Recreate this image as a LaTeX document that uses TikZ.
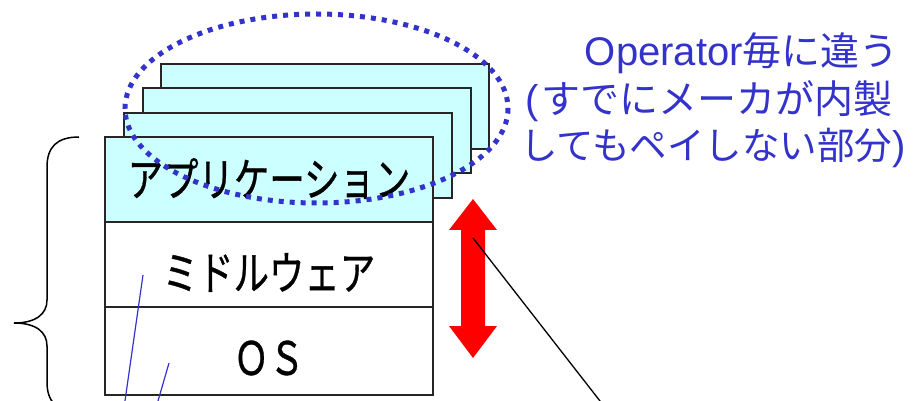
\documentclass[tikz,border=0pt]{standalone}
\usepackage{fontspec}
\setmainfont{Liberation Sans}
\newfontfamily\jp{Noto Sans CJK JP}
\newfontfamily\jpbold[FakeBold=0.8]{Noto Sans CJK JP}
\usetikzlibrary{positioning}
\definecolor{noteblue}{RGB}{51, 51, 204}
\definecolor{appcyan}{RGB}{204, 255, 255}
\definecolor{arrowred}{RGB}{255, 0, 0}
\newcommand{\layertext}[2]{\raisebox{#1}[\height][\depth]{\scalebox{0.77}[1]{#2}}}

\begin{document}
\begin{tikzpicture}[x=1pt, y=-1pt,
  layer/.style={draw=black!85, line width=2pt, fill=white, minimum width=328,
    minimum height=85, inner sep=0pt, outer sep=0pt,
    font=\jpbold\fontsize{46}{46}\selectfont},
  appbox/.style={layer, fill=appcyan},
  note/.style={text=noteblue, inner sep=0pt, font=\jp\fontsize{39}{39}\selectfont}]
        \useasboundingbox (0,0) rectangle (914,401);
        \clip (0,0) rectangle (914,401);

        % stack of application boxes, back to front
        \node[appbox] (app4) at (325,107) {};
        \node[appbox] (app3) at (306.5,131) {};
        \node[appbox] (app2) at (288,155.5) {};
        \node[appbox] (app) at (269,179.5) {\layertext{1pt}{アプリケーション}};
        \node[layer, below=0pt of app] (mw) {\layertext{-8pt}{ミドルウェア}};
        \node[layer, below=0pt of mw, minimum height=88] (os) {\layertext{-7pt}{ＯＳ}};

        % brace
        \draw[line width=1.5pt] (79,137) .. controls (57,137) and (47,147) .. (47,167)
        -- (47,300) .. controls (47,314) and (36,323) .. (14,323)
        .. controls (36,323) and (47,332) .. (47,346)
        -- (47,382) .. controls (47,402) and (57,412) .. (79,412);

        \draw[noteblue, line width=5pt, dash pattern=on 5pt off 6pt]
        (316.5,108.5) ellipse [x radius=191.5, y radius=94.5];

        \node[note, anchor=base east] (note1) at (899,66)
        {{\rmfamily\fontsize{40}{40}\selectfont Operator}毎に違う};
        \node[note, anchor=base west] (note2) at (525,114)
        {{\rmfamily\fontsize{40}{40}\selectfont (}\hspace{3pt}すでにメーカが内製};
        \node[note, anchor=base west, font=\jp\fontsize{37.5}{37.5}\selectfont] (note3) at (520,160)
        {してもペイしない部分{\rmfamily\fontsize{40}{40}\selectfont )}};

        % red double arrow
        \fill[arrowred] (473,199) -- (497,230) -- (485,230) -- (485,326) -- (497,326)
        -- (473,358) -- (449,326) -- (461,326) -- (461,230) -- (449,230) -- cycle;

        \coordinate (grip) at (473,238);
        \coordinate (gripend) at (607,410);
        \draw[line width=1.3pt] (grip) -- (gripend);

        \coordinate (mwpt) at (143,275);
        \coordinate (mwend) at (123.7,410);
        \coordinate (ospt) at (169,363);
        \coordinate (osend) at (155.4,410);
        \draw[noteblue, line width=1.2pt] (mwpt) -- (mwend);
        \draw[noteblue, line width=1.2pt] (ospt) -- (osend);
\end{tikzpicture}
\end{document}
